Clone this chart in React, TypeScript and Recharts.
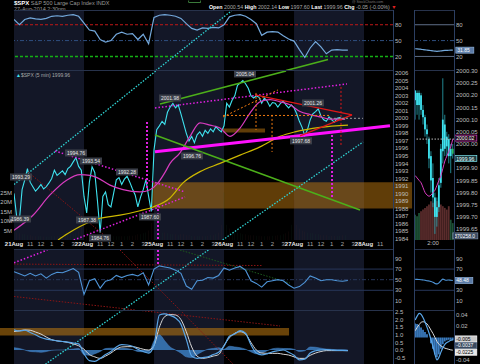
import React from 'react';
import {
  ComposedChart,
  Line,
  Bar,
  Area,
  XAxis,
  YAxis,
  ReferenceArea,
  ReferenceLine,
  ReferenceDot,
  Cell,
} from 'recharts';

// ---- time axis ----
const DAY_LABELS = ['21Aug', '22Aug', '25Aug', '26Aug', '27Aug', '28Aug'];
const HOUR_LABELS = ['11', '12', '1', '2', '3'];
const HOURS_AFTER_OPEN = [1.5, 2.5, 3.5, 4.5, 5.5];
const SHADED_DAYS = [0, 2, 4];
const T_MAX = 5.414;
const BARS_PER_DAY = 26; // 15 min bars
const STEPS_PER_DAY = 13; // 30 min samples for the indicators

// ---- SPX closes (15 min) ----
const close21 = [1990.0, 1986.9, 1986.4, 1990.5, 1991.8, 1993.29, 1991.5, 1990.9, 1990.3, 1990.7, 1991.2, 1990.6, 1990.9, 1991.4, 1992.0, 1993.1, 1992.4, 1992.7, 1993.0, 1992.5, 1993.3, 1993.6, 1994.2, 1994.76, 1993.6, 1993.1];
const close22 = [1989.6, 1987.4, 1991.5, 1993.54, 1992.8, 1989.0, 1984.76, 1989.6, 1990.2, 1988.5, 1988.2, 1990.0, 1991.8, 1992.1, 1991.2, 1991.9, 1992.28, 1991.5, 1990.6, 1989.8, 1988.2, 1989.5, 1990.5, 1991.8, 1989.6, 1987.6];
const close25 = [1995.8, 1998.5, 1999.0, 1999.6, 1999.2, 2000.8, 2001.5, 2001.98, 2001.4, 2001.8, 2000.6, 1999.3, 1998.0, 1997.0, 1997.6, 1996.76, 1997.8, 1998.2, 1997.6, 1998.4, 1998.0, 1998.6, 1998.2, 1998.9, 1998.5, 1998.2];
const close26 = [1999.0, 2002.0, 2001.5, 2002.4, 2003.0, 2004.4, 2004.7, 2005.04, 2004.6, 2004.0, 2003.0, 2002.7, 2003.0, 2002.8, 2002.0, 2002.7, 2002.3, 2001.6, 2002.1, 2002.0, 2001.5, 2002.0, 2002.3, 2001.8, 2001.4, 2001.8];
const close27 = [2001.4, 2000.6, 1999.6, 1998.8, 1997.68, 1998.5, 1999.8, 2000.6, 2000.9, 2001.26, 2000.3, 1999.8, 1999.6, 2000.2, 1999.8, 1999.5, 2000.0, 2000.1, 1999.9, 1999.96];

// ---- volume, millions ----
const vol21 = [6, 4, 3.5, 3, 3, 2.5, 2.5, 2, 2, 2, 2, 1.8, 1.8, 1.8, 2, 2, 2, 2.2, 2.2, 2.5, 2.5, 3, 3, 3.5, 4.5, 7];
const vol22 = [14, 6, 5, 4, 6, 4, 3, 3, 2.5, 2.5, 2.5, 2, 2, 2, 2, 2, 2, 2.2, 2.2, 2.5, 3, 3, 3.5, 4, 5, 9];
const vol25 = [20, 7, 5, 4, 4, 3.5, 3, 3, 3, 2.5, 3, 3, 2.5, 2.5, 2.2, 2, 2, 2, 2, 2, 2.2, 2.5, 2.5, 3, 4, 8];
const vol26 = [25, 8, 6, 5, 5, 4, 3.5, 3, 3, 2.5, 2.5, 2.5, 2.2, 2.2, 2, 2, 2, 2, 2.2, 2.2, 2.5, 2.5, 3, 3.5, 4.5, 8];
const vol27 = [21, 8, 6, 5, 4.5, 4, 3.5, 3.5, 3, 3, 2.5, 2.5, 2.5, 2.2, 2.2, 2.2, 2, 2.2, 2.5, 2.5];

// ---- moving averages: [time in days, value] ----
const magentaMA = [
  [0, 1985.1], [0.271, 1987.1], [0.514, 1989.8], [0.757, 1991.8], [0.943, 1992.5], [1.086, 1992.4], [1.186, 1992.1],
  [1.371, 1991.1], [1.557, 1990.5], [1.8, 1990.2], [1.943, 1990.5], [2.057, 1991.4], [2.157, 1992.8], [2.229, 1994.0],
  [2.371, 1995.4], [2.514, 1997.6], [2.657, 1999.4], [2.8, 1999.1], [2.943, 1998.7], [3.086, 1997.6], [3.229, 1998.7],
  [3.371, 2000.7], [3.514, 2002.2], [3.657, 2002.5], [3.8, 2002.2], [3.943, 2001.8], [4.086, 2000.9], [4.229, 2000.5],
  [4.371, 2000.2], [4.514, 1999.9], [4.729, 1999.9],
];
const yellowMA = [
  [0.629, 1983.8], [0.757, 1984.6], [0.943, 1985.6], [1.229, 1986.7], [1.514, 1987.1], [1.8, 1987.7], [1.986, 1988.2],
  [2.229, 1989.4], [2.414, 1991.4], [2.657, 1992.9], [2.943, 1994.0], [3.229, 1995.1], [3.514, 1996.2], [3.8, 1997.6],
  [4.014, 1998.2], [4.371, 1998.8], [4.771, 1999.1],
];

// ---- indicators, 30 min samples ----
const rsiTop = [
  90, 80, 90, 93, 91, 90, 92, 96, 97, 96, 98, 99, 96,
  83, 70, 68, 52, 47, 50, 62, 66, 62, 63, 52, 62, 44,
  94, 98, 99, 98, 96, 92, 82, 73, 70, 74, 73, 75, 74,
  80, 95, 98, 99, 96, 90, 82, 60, 66, 67, 66, 59, 53,
  49, 33, 18, 36, 48, 38, 25, 32, 33, 32, 31.85,
];
const rsiLow = [
  65, 61, 57, 62, 57, 61, 53, 60, 64, 63, 67, 71, 64,
  22, 48, 52, 34, 47, 50, 58, 54, 58, 60, 57, 63, 40,
  70, 76, 74, 72, 68, 62, 38, 32, 48, 49, 54, 53, 58,
  72, 68, 72, 75, 68, 48, 43, 36, 46, 48, 50, 48, 40,
  34, 37, 45, 57, 53, 48, 50, 50, 48, 47, 48.48,
];
const macdLine = [
  1.33, 1.25, 1.3, 1.15, 1.0, 0.82, 0.72, 0.66, 0.6, 0.56, 0.52, 0.46, 0.4,
  -0.25, -0.7, -0.75, -0.55, -0.3, -0.1, 0.2, 0.35, 0.33, 0.25, 0.05, -0.1, -0.2,
  0.3, 2.3, 2.38, 2.27, 2.1, 1.7, 0.7, -0.4, -0.55, -0.5, -0.45, -0.3, -0.15,
  0.25, 0.9, 1.05, 1.28, 1.1, 0.35, -0.2, -0.32, -0.25, -0.12, -0.05, 0, -0.15,
  -0.35, -0.65, -0.6, -0.2, -0.05, 0, 0.02, 0, -0.02, -0.03, -0.04,
];
const macdSignal = [
  1.22, 1.26, 1.32, 1.3, 1.18, 1.05, 0.85, 0.68, 0.6, 0.56, 0.5, 0.4, 0.28,
  0.05, -0.3, -0.45, -0.55, -0.4, -0.2, 0.05, 0.2, 0.22, 0.22, 0.15, 0.05, 0.0,
  0.3, 1.5, 2.2, 2.33, 2.3, 2.0, 1.2, 0.2, -0.4, -0.55, -0.5, -0.4, -0.3,
  0.3, 0.8, 1.1, 1.2, 1.05, 0.5, 0.0, -0.2, -0.22, -0.22, -0.22, -0.28, -0.33,
  -0.45, -0.55, -0.55, -0.35, -0.2, -0.1, -0.04, -0.04, -0.04, -0.04, -0.04,
];
const macdHist = [
  0.15, 0.1, 0.0, -0.1, -0.12, -0.15, -0.1, -0.02, 0.0, 0.0, 0.02, 0.06, 0.1,
  -0.3, -0.35, -0.25, -0.1, 0.1, 0.12, 0.12, 0.12, 0.1, 0.03, -0.1, -0.12, -0.15,
  0.6, 1.0, 0.6, 0.2, 0.0, -0.2, -0.45, -0.5, -0.3, -0.1, 0.05, 0.1, 0.15,
  0.05, 0.25, 0.2, 0.15, 0.05, -0.12, -0.25, -0.2, -0.05, 0.08, 0.12, 0.1, 0.1,
  0.05, -0.1, -0.05, 0.2, 0.18, 0.12, 0.06, 0.04, 0.02, 0.01, 0.0,
];

// ---- side panel (1 min, around 2:00) ----
const sideOpen = [2000.18, 2000.21, 2000.16, 2000.2, 2000.14, 2000.11, 2000.06, 2000.02, 1999.95, 1999.86, 1999.78, 1999.7, 1999.74, 1999.84, 1999.97, 2000.08, 1999.99, 2000.02, 1999.95, 1999.98];
const sideHigh = [2000.22, 2000.22, 2000.22, 2000.21, 2000.16, 2000.12, 2000.08, 2000.03, 1999.97, 1999.92, 1999.8, 1999.78, 1999.86, 2000.0, 2000.27, 2000.12, 2000.05, 2000.04, 2000.0, 2000.0];
const sideLow = [2000.1, 2000.12, 2000.1, 2000.12, 2000.08, 2000.03, 2000.0, 1999.9, 1999.8, 1999.74, 1999.63, 1999.66, 1999.72, 1999.82, 1999.92, 1999.95, 1999.95, 1999.92, 1999.88, 1999.94];
const sideClose = [2000.22, 2000.16, 2000.21, 2000.14, 2000.11, 2000.06, 2000.04, 1999.94, 1999.85, 1999.78, 1999.7, 1999.74, 1999.83, 1999.98, 2000.1, 1999.98, 2000.03, 1999.95, 1999.98, 1999.96];
const sideMA = [1999.87, 1999.86, 1999.85, 1999.84, 1999.82, 1999.8, 1999.79, 1999.785, 1999.79, 1999.8, 1999.81, 1999.83, 1999.85, 1999.87, 1999.9, 1999.93, 1999.95, 1999.97, 1999.99, 2000.02];
const sideVol = [150, 140, 160, 170, 180, 190, 200, 210, 230, 220, 240, 230, 220, 210, 200, 190, 180, 200, 120, 100];
const sideRsiTop = [34.5, 34.3, 34, 33.5, 33, 32.5, 32, 31.5, 31, 30.5, 30, 29.7, 30, 30.5, 31, 31.3, 31.5, 31.7, 31.8, 31.85];
const sideRsiLow = [50.5, 50.5, 50.3, 50, 49.5, 49, 48, 47.5, 46.5, 45, 43, 42, 44, 48, 51, 49.5, 49, 49.5, 48.8, 48.48];
const sideMacd = [0.031, 0.038, 0.043, 0.041, 0.035, 0.027, 0.018, 0.008, -0.004, -0.016, -0.03, -0.04, -0.035, -0.026, -0.018, -0.012, -0.009, -0.007, -0.005, -0.0037];
const sideSignal = [0.012, 0.018, 0.023, 0.027, 0.028, 0.027, 0.024, 0.019, 0.013, 0.007, 0.0, -0.007, -0.012, -0.015, -0.017, -0.019, -0.02, -0.021, -0.022, -0.0225];
const sideHist = [0.025, 0.024, 0.022, 0.018, 0.014, 0.01, 0.006, 0.0, -0.01, -0.02, -0.03, -0.035, -0.03, -0.02, -0.012, -0.007, -0.005, -0.004, -0.004, -0.005];

// ---- tick values ----
const priceTicks = [1984, 1985, 1986, 1987, 1988, 1989, 1990, 1991, 1992, 1993, 1994, 1995, 1996, 1997, 1998, 1999, 2000, 2001, 2002, 2003, 2004, 2005, 2006];
const volTicks = [5, 10, 15, 20, 25];
const rsiTopTicks = [20, 50, 80];
const rsiLowTicks = [10, 30, 50, 70, 90];
const macdTicks = [-0.5, 0, 0.5, 1, 1.5, 2, 2.5];
// 1999.95 sits under the last-price box
const sidePriceTicks = [1999.65, 1999.7, 1999.75, 1999.8, 1999.85, 1999.9, 2000.0, 2000.05, 2000.1, 2000.15, 2000.2, 2000.25, 2000.3];
// 50 sits under the last-value box
const sideRsiLowTicks = [10, 30, 70, 90];
const sideMacdTicks = [-0.04, 0.02, 0.04];

// ---- drawn annotations: [t, value] endpoints ----
const mainSegments = [
  { kind: 'cyanDot', a: [0, 1991.19], b: [2.027, 2006.31] },
  { kind: 'cyanDot', a: [2.98, 1983.8], b: [4.986, 1996.85] },
  { kind: 'redDot', a: [0.2, 1992.85], b: [1.371, 1983.8] },
  { kind: 'magentaDot', a: [0.586, 1995.65], b: [2.443, 1990.2] },
  { kind: 'magentaDot', a: [0.853, 1983.8], b: [2.443, 1989.53] },
  { kind: 'magentaDot', a: [2.014, 2001.38], b: [4.757, 2004.57] },
  { kind: 'magentaVert', a: [1.9, 1999.52], b: [1.9, 1990.46] },
  { kind: 'magentaVert', a: [2.057, 1988.46], b: [2.057, 1983.8] },
  { kind: 'magentaVert', a: [4.543, 1997.78], b: [4.543, 1989.53] },
  { kind: 'magentaThick', a: [2.014, 1995.56], b: [5.371, 1999.02] },
  { kind: 'green', a: [2.086, 2001.91], b: [3.886, 2006.31] },
  { kind: 'green', a: [2.014, 1997.78], b: [4.943, 1987.8] },
  { kind: 'red', a: [3.443, 2003.11], b: [4.829, 2000.45] },
  { kind: 'red', a: [4.086, 1997.65], b: [4.829, 2000.45] },
  { kind: 'redDash', a: [4.671, 2004.18], b: [4.671, 1996.19] },
  { kind: 'orangeDash', a: [2.986, 2000.18], b: [3.771, 2003.78] },
  { kind: 'orangeDash', a: [2.986, 2000.38], b: [4.514, 2000.38] },
  { kind: 'orangeDash', a: [3.457, 2003.38], b: [3.457, 1998.45] },
  { kind: 'orangeDash', a: [3.686, 2000.45], b: [3.686, 1995.52] },
  { kind: 'greyDash', a: [4.514, 2000.0], b: [4.986, 2000.0] },
];
const topSegments = [
  { kind: 'cyanDot', a: [2.027, -6.8], b: [3.129, 108.7] },
  { kind: 'green', a: [3.886, -6.8], b: [4.486, 14.0] },
];
const lowSegments = [
  { kind: 'cyanDot', a: [2.777, 106], b: [1.553, -7.2] },
  { kind: 'redDot', a: [0, 18.3], b: [1.743, -7.2] },
  { kind: 'redDot', a: [1.514, 106], b: [2.371, -7.2] },
  { kind: 'redDot', a: [0, 79.4], b: [3.543, 76.7] },
  { kind: 'magentaDot', a: [0, 82], b: [0.477, 106] },
  { kind: 'magentaVert', a: [2.057, 106], b: [2.057, 77.4] },
  { kind: 'greenDot', a: [2.371, 106], b: [3.943, 43.6] },
];
const macdSegments = [
  { kind: 'cyanDot', a: [1.553, 2.63], b: [0.451, -0.92] },
  { kind: 'redDot', a: [1.743, 2.63], b: [3.8, 1.58] },
  { kind: 'redDot', a: [2.371, 2.63], b: [3.129, -0.92] },
];
const mainZones = [
  { t: [1.971, 5.686], v: [1988.0, 1991.5] },
  { t: [2.986, 3.586], v: [1998.1, 1998.65] },
];
const macdZones = [{ t: [-0.2, 3.929], v: [0.95, 1.45] }];

const priceNotes = [
  { t: 0.1, p: 1992.19, text: '1993.29' },
  { t: 0.086, p: 1986.6, text: '1986.39' },
  { t: 0.886, p: 1995.39, text: '1994.76' },
  { t: 1.1, p: 1994.32, text: '1993.54' },
  { t: 1.043, p: 1986.47, text: '1987.38' },
  { t: 1.229, p: 1984.07, text: '1984.76' },
  { t: 1.614, p: 1992.86, text: '1992.28' },
  { t: 1.943, p: 1986.87, text: '1987.60' },
  { t: 2.229, p: 2002.71, text: '2001.98' },
  { t: 2.543, p: 1994.99, text: '1996.76' },
  { t: 3.3, p: 2005.91, text: '2005.04' },
  { t: 4.271, p: 2002.05, text: '2001.26' },
  { t: 4.1, p: 1997.0, text: '1997.68' },
];

const SEG_STYLE: Record<string, any> = {
  cyanDot: { stroke: '#2fd3d3', strokeWidth: 1.3, strokeDasharray: '1.5 1.5' },
  redDot: { stroke: '#8a1414', strokeWidth: 1, strokeDasharray: '1.5 1.5' },
  greenDot: { stroke: '#1c5a1c', strokeWidth: 1, strokeDasharray: '1.5 1.5' },
  magentaDot: { stroke: '#e020e0', strokeWidth: 1.5, strokeDasharray: '1.5 2' },
  magentaVert: { stroke: '#e020e0', strokeWidth: 2, strokeDasharray: '2 2' },
  magentaThick: { stroke: '#ff10ff', strokeWidth: 3 },
  green: { stroke: '#4caf1a', strokeWidth: 1.5 },
  red: { stroke: '#e01818', strokeWidth: 1.3 },
  redDash: { stroke: '#e01818', strokeWidth: 1, strokeDasharray: '2 2' },
  orangeDash: { stroke: '#f07a10', strokeWidth: 1, strokeDasharray: '2 2' },
  greyDash: { stroke: '#9a9a9a', strokeWidth: 1, strokeDasharray: '2 2' },
};

// ---- rows built from the arrays ----
const closes = [...close21, ...close22, ...close25, ...close26, ...close27];
const volumes = [...vol21, ...vol22, ...vol25, ...vol26, ...vol27];
const stamp = (i: number, perDay: number) => Math.floor(i / perDay) + (i % perDay) / perDay;

const priceRows = closes.map((c, i) => ({ t: stamp(i, BARS_PER_DAY), close: c, vol: volumes[i] }));
const magentaRows = magentaMA.map(([t, v]) => ({ t, v }));
const yellowRows = yellowMA.map(([t, v]) => ({ t, v }));
const indRows = rsiTop.map((r, i) => ({
  t: stamp(i, STEPS_PER_DAY),
  rsiTop: r,
  rsiLow: rsiLow[i],
  macd: macdLine[i],
  signal: macdSignal[i],
  hist: macdHist[i],
}));
const sideRows = sideClose.map((c, i) => ({
  i,
  o: sideOpen[i],
  h: sideHigh[i],
  l: sideLow[i],
  c,
  ma: sideMA[i],
  vol: sideVol[i],
  rsiTop: sideRsiTop[i],
  rsiLow: sideRsiLow[i],
  macd: sideMacd[i],
  signal: sideSignal[i],
  hist: sideHist[i],
}));

const timeTicks: number[] = [];
const tickInfo: Record<string, { text: string; day: boolean }> = {};
DAY_LABELS.forEach((d, di) => {
  timeTicks.push(di);
  tickInfo[di.toFixed(3)] = { text: d, day: true };
  HOURS_AFTER_OPEN.forEach((h, hi) => {
    const t = di + h / 6.5;
    if (t < 5.3) {
      timeTicks.push(t);
      tickInfo[t.toFixed(3)] = { text: HOUR_LABELS[hi], day: false };
    }
  });
});

const FONT = '"Liberation Sans", Arial, sans-serif';
const AXIS_TEXT = { fontSize: 6, fill: '#bdbdbd', fontFamily: FONT };
const FRAME = '#27324b';

function TimeTick(props: any) {
  const { x, y, payload } = props;
  const info = tickInfo[Number(payload.value).toFixed(3)];
  if (!info) return null;
  return (
    <text x={x} y={y + 6} textAnchor="middle" fontSize={6} fontFamily={FONT} fontWeight={info.day ? 700 : 400} fill={info.day ? '#e6e6e6' : '#a8a8a8'}>
      {info.text}
    </text>
  );
}

function renderSegments(list: any[]) {
  return list.map((s, k) => (
    <ReferenceLine
      key={'seg' + k}
      segment={[{ x: s.a[0], y: s.a[1] }, { x: s.b[0], y: s.b[1] }]}
      ifOverflow="hidden"
      {...SEG_STYLE[s.kind]}
    />
  ));
}

function dayBands() {
  return SHADED_DAYS.map((d) => (
    <ReferenceArea key={'day' + d} x1={d} x2={d + 1} fill="#131727" fillOpacity={1} stroke="none" ifOverflow="hidden" />
  ));
}

function NoteBox(props: any) {
  const { cx, cy, text } = props;
  return (
    <g>
      <rect x={cx - 11} y={cy - 3.5} width={22} height={7} fill="#3a3e48" />
      <text x={cx} y={cy + 2} textAnchor="middle" fontSize={5} fontFamily={FONT} fill="#e6e6e6">
        {text}
      </text>
    </g>
  );
}

function ValueBox(props: any) {
  const { cx, cy, text, fill, stroke, color, dx = 3, dy = 0, w = 24 } = props;
  return (
    <g>
      <rect x={cx + dx} y={cy + dy - 3} width={w} height={6} fill={fill} stroke={stroke} strokeWidth={0.7} />
      <text x={cx + dx + 1.5} y={cy + dy + 2} fontSize={5} fontFamily={FONT} fill={color}>
        {text}
      </text>
    </g>
  );
}

const xMain = { type: 'number' as const, dataKey: 't', domain: [0, T_MAX], allowDataOverflow: true };
const rightAxis = {
  orientation: 'right' as const,
  width: 21,
  tickLine: false,
  axisLine: false,
  tickSize: 0,
  tickMargin: 2,
  interval: 0 as const,
  allowDataOverflow: true,
  tick: AXIS_TEXT,
};
const sideAxis = { ...rightAxis, width: 26 };
const xSide = { type: 'number' as const, dataKey: 'i', domain: [-0.6, 19.6], allowDataOverflow: true };

function Rule({ x, y, w, h, color = FRAME }: any) {
  return <div style={{ position: 'absolute', left: x, top: y, width: w, height: h, background: color }} />;
}

function Place({ x, y, children }: any) {
  return <div style={{ position: 'absolute', left: x, top: y }}>{children}</div>;
}

export default function App() {
  return (
    <div style={{ position: 'relative', width: 480, height: 364, background: '#000', overflow: 'hidden', fontFamily: FONT }}>
      <style>{'body{margin:0;background:#000}'}</style>

      {/* header */}
      <div style={{ position: 'absolute', left: 14, top: 0, fontSize: 5.5, lineHeight: '6px', color: '#9a9a9a', whiteSpace: 'nowrap' }}>
        <b style={{ color: '#fff', fontSize: 6 }}>$SPX</b> S&amp;P 500 Large Cap Index INDX
        <br />
        27-Aug-2014 2:30pm
      </div>
      <div style={{ position: 'absolute', left: 188, top: 0, width: 11, height: 2, border: '1px solid #3a7a3a', borderTop: 'none', borderRadius: 2 }} />
      <div style={{ position: 'absolute', left: 352, top: 0, fontSize: 3.5, color: '#7a7a7a', whiteSpace: 'nowrap' }}>@ StockCharts.com</div>
      <div style={{ position: 'absolute', left: 209, top: 4, fontSize: 5.3, color: '#a8a8a8', whiteSpace: 'nowrap' }}>
        <b style={{ color: '#fff' }}>Open</b> 2000.54 <b style={{ color: '#fff' }}>High</b> 2002.14 <b style={{ color: '#fff' }}>Low</b> 1997.60{' '}
        <b style={{ color: '#fff' }}>Last</b> 1999.96 <b style={{ color: '#fff' }}>Chg</b> -0.05 (-0.00%) <span style={{ color: '#e02020' }}>▼</span>
      </div>

      {/* top indicator panel */}
      <Place x={0} y={10}>
        <ComposedChart width={414} height={60} data={indRows} margin={{ top: 0, right: 0, bottom: 0, left: 14 }}>
          <XAxis {...xMain} hide />
          <YAxis {...rightAxis} domain={[-5.7, 107.9]} ticks={rsiTopTicks} />
          {dayBands()}
          <ReferenceLine y={80} stroke="#c01818" strokeDasharray="3 2" />
          <ReferenceLine y={50} stroke="#2f4f7f" strokeDasharray="4 2 1 2" />
          <ReferenceLine y={20} stroke="#14b014" strokeWidth={1.5} strokeDasharray="3 2" />
          <Line dataKey="rsiTop" stroke="#74a9dc" strokeWidth={1.2} dot={false} isAnimationActive={false} type="linear" />
          {renderSegments(topSegments)}
        </ComposedChart>
      </Place>

      {/* main price panel */}
      <Place x={0} y={71}>
        <ComposedChart width={414} height={178} data={priceRows} margin={{ top: 0, right: 0, bottom: 0, left: 0 }}>
          <XAxis {...xMain} ticks={timeTicks} interval={0} tick={<TimeTick />} height={9} tickLine={false} axisLine={false} tickSize={0} tickMargin={0} />
          <YAxis {...rightAxis} domain={[1983.8, 2006.3]} ticks={priceTicks} />
          <YAxis
            yAxisId="vol"
            orientation="left"
            width={14}
            domain={[0, 89]}
            ticks={volTicks}
            tickFormatter={(v: number) => v + 'M'}
            tickLine={false}
            axisLine={false}
            tickSize={0}
            tickMargin={2}
            interval={0}
            allowDataOverflow
            tick={AXIS_TEXT}
          />
          {dayBands()}
          {mainZones.map((z, k) => (
            <ReferenceArea key={'z' + k} x1={z.t[0]} x2={z.t[1]} y1={z.v[0]} y2={z.v[1]} fill="#c07a10" fillOpacity={0.5} stroke="none" ifOverflow="visible" />
          ))}
          <Bar yAxisId="vol" dataKey="vol" barSize={2} isAnimationActive={false}>
            {priceRows.map((r, i) => (
              <Cell key={i} fill={i > 0 && r.close < priceRows[i - 1].close ? '#5a2c2c' : '#1d5236'} />
            ))}
          </Bar>
          <Line dataKey="close" stroke="#3fe3f0" strokeWidth={1.1} dot={false} isAnimationActive={false} type="linear" />
          <Line data={yellowRows} dataKey="v" stroke="#cdb800" strokeWidth={1.2} dot={false} isAnimationActive={false} type="monotone" />
          <Line data={magentaRows} dataKey="v" stroke="#d83cbf" strokeWidth={1.2} dot={false} isAnimationActive={false} type="monotone" />
          {renderSegments(mainSegments)}
          {priceNotes.map((n, k) => (
            <ReferenceDot key={'n' + k} x={n.t} y={n.p} r={0} ifOverflow="visible" shape={(p: any) => <NoteBox {...p} text={n.text} />} />
          ))}
        </ComposedChart>
      </Place>
      <div style={{ position: 'absolute', left: 16, top: 72, fontSize: 5, color: '#a8a8a8', whiteSpace: 'nowrap' }}>
        <span style={{ color: '#3fe3f0' }}>▲</span>$SPX (5 min) 1999.96
      </div>

      {/* lower RSI panel */}
      <Place x={0} y={250}>
        <ComposedChart width={414} height={60} data={indRows} margin={{ top: 0, right: 0, bottom: 0, left: 14 }}>
          <XAxis {...xMain} hide />
          <YAxis {...rightAxis} domain={[-7.2, 106]} ticks={rsiLowTicks} />
          {dayBands()}
          <ReferenceLine y={70} stroke="#27365a" />
          <ReferenceLine y={30} stroke="#27365a" />
          <ReferenceLine y={50} stroke="#27365a" strokeDasharray="4 2 1 2" />
          {renderSegments(lowSegments)}
          <Line dataKey="rsiLow" stroke="#4f95d8" strokeWidth={1.1} dot={false} isAnimationActive={false} type="linear" />
        </ComposedChart>
      </Place>

      {/* MACD panel */}
      <Place x={0} y={310}>
        <ComposedChart width={414} height={54} data={indRows} margin={{ top: 0, right: 0, bottom: 0, left: 14 }}>
          <XAxis {...xMain} hide />
          <YAxis {...rightAxis} domain={[-0.92, 2.63]} ticks={macdTicks} tickFormatter={(v: number) => v.toFixed(1)} />
          {dayBands()}
          {macdZones.map((z, k) => (
            <ReferenceArea key={'mz' + k} x1={z.t[0]} x2={z.t[1]} y1={z.v[0]} y2={z.v[1]} fill="#c07a10" fillOpacity={0.55} stroke="none" ifOverflow="visible" />
          ))}
          <Area dataKey="hist" baseValue={0} fill="#3b7cc0" fillOpacity={0.85} stroke="#4a8ad0" strokeWidth={0.5} isAnimationActive={false} type="monotone" />
          {renderSegments(macdSegments)}
          <Line dataKey="signal" stroke="#d8d8d8" strokeWidth={1} dot={false} isAnimationActive={false} type="monotone" />
          <Line dataKey="macd" stroke="#5aa6e8" strokeWidth={1.2} dot={false} isAnimationActive={false} type="monotone" />
        </ComposedChart>
      </Place>

      {/* side panel: top */}
      <Place x={414} y={10}>
        <ComposedChart width={66} height={60} data={sideRows} margin={{ top: 0, right: 0, bottom: 0, left: 0 }}>
          <XAxis {...xSide} hide />
          <YAxis {...sideAxis} domain={[-5.7, 107.9]} ticks={rsiTopTicks} />
          <ReferenceLine y={80} stroke="#5f6f88" />
          <ReferenceLine y={50} stroke="#2f4f7f" strokeDasharray="4 2 1 2" />
          <ReferenceLine y={20} stroke="#5f6f88" />
          <Line dataKey="rsiTop" stroke="#74a9dc" strokeWidth={1.2} dot={false} isAnimationActive={false} type="monotone" />
          <ReferenceDot x={19} y={31.85} r={0} ifOverflow="visible" shape={(p: any) => <ValueBox {...p} text="31.85" fill="#5b7ba6" stroke="#8fb0d8" color="#fff" w={18} />} />
        </ComposedChart>
      </Place>

      {/* side panel: price */}
      <Place x={414} y={65}>
        <ComposedChart width={66} height={184} data={sideRows} margin={{ top: 6, right: 0, bottom: 0, left: 0 }}>
          <XAxis {...xSide} ticks={[9]} tickFormatter={() => '2:00'} height={9} tickLine={false} axisLine={false} tickSize={0} tickMargin={1} tick={AXIS_TEXT} />
          <XAxis {...xSide} xAxisId="vx" hide />
          <YAxis {...sideAxis} domain={[1999.605, 2000.3]} ticks={sidePriceTicks} tickFormatter={(v: number) => v.toFixed(2)} />
          <YAxis yAxisId="vol" hide domain={[0, 1000]} allowDataOverflow />
          <ReferenceLine y={2000.02} stroke="#bbbbbb" strokeDasharray="1.5 1.5" />
          <Bar xAxisId="vx" yAxisId="vol" dataKey="vol" barSize={2} isAnimationActive={false}>
            {sideRows.map((r, i) => (
              <Cell key={i} fill={i < 3 || i > 17 ? '#1d5236' : '#5a2c2c'} />
            ))}
          </Bar>
          <Bar
            dataKey={(r: any) => [r.l, r.h]}
            barSize={2}
            isAnimationActive={false}
            shape={(p: any) => {
              const { x, y, width, height, payload } = p;
              const top = Math.min(y, y + height);
              const hgt = Math.abs(height);
              const k = hgt / (payload.h - payload.l || 1);
              const bTop = top + (payload.h - Math.max(payload.o, payload.c)) * k;
              const bBot = top + (payload.h - Math.min(payload.o, payload.c)) * k;
              const cx = x + width / 2;
              const col = payload.i === 19 ? '#2fbf6a' : '#3fe3f0';
              return (
                <g>
                  <line x1={cx} x2={cx} y1={top} y2={top + hgt} stroke="#2aa7b4" strokeWidth={0.8} />
                  <rect x={x} y={bTop} width={width} height={Math.max(1, bBot - bTop)} fill={col} />
                </g>
              );
            }}
          />
          <Line dataKey="ma" stroke="#d83cbf" strokeWidth={1} dot={false} isAnimationActive={false} type="monotone" />
          <ReferenceDot x={19} y={2000.02} r={0} ifOverflow="visible" shape={(p: any) => <ValueBox {...p} text="2000.02" fill="#1a0a18" stroke="#d83cbf" color="#fff" w={22} dx={2} dy={-1} />} />
          <ReferenceDot x={19} y={1999.94} r={0} ifOverflow="visible" shape={(p: any) => <ValueBox {...p} text="1999.96" fill="#1d3a40" stroke="#7fe6ee" color="#e8ffff" w={22} dx={2} />} />
          <ReferenceDot x={19} y={1999.622} r={0} ifOverflow="visible" shape={(p: any) => <ValueBox {...p} text="370258.0" fill="#3a4a60" stroke="#7f90a8" color="#fff" w={25} dx={0} />} />
        </ComposedChart>
      </Place>

      {/* side panel: lower RSI */}
      <Place x={414} y={250}>
        <ComposedChart width={66} height={60} data={sideRows} margin={{ top: 0, right: 0, bottom: 0, left: 0 }}>
          <XAxis {...xSide} hide />
          <YAxis {...sideAxis} domain={[-7.2, 106]} ticks={sideRsiLowTicks} />
          <ReferenceLine y={70} stroke="#27365a" />
          <ReferenceLine y={30} stroke="#27365a" />
          <Line dataKey="rsiLow" stroke="#4f95d8" strokeWidth={1.1} dot={false} isAnimationActive={false} type="monotone" />
          <ReferenceDot x={19} y={48.48} r={0} ifOverflow="visible" shape={(p: any) => <ValueBox {...p} text="48.48" fill="#5b7ba6" stroke="#8fb0d8" color="#fff" w={18} dx={2} />} />
        </ComposedChart>
      </Place>

      {/* side panel: MACD */}
      <Place x={414} y={310}>
        <ComposedChart width={66} height={54} data={sideRows} margin={{ top: 0, right: 0, bottom: 0, left: 0 }}>
          <XAxis {...xSide} hide />
          <YAxis {...sideAxis} domain={[-0.0471, 0.0489]} ticks={sideMacdTicks} tickFormatter={(v: number) => v.toFixed(2)} />
          <Bar dataKey="hist" barSize={2} fill="#3b7cc0" isAnimationActive={false} />
          <Line dataKey="signal" stroke="#d8d8d8" strokeWidth={1} dot={false} isAnimationActive={false} type="monotone" />
          <Line dataKey="macd" stroke="#5aa6e8" strokeWidth={1.2} dot={false} isAnimationActive={false} type="monotone" />
          <ReferenceDot x={19} y={-0.0025} r={0} ifOverflow="visible" shape={(p: any) => <ValueBox {...p} text="-0.005" fill="#c8c8c8" stroke="#fff" color="#000" w={22} dx={2} />} />
          <ReferenceDot x={19} y={-0.0142} r={0} ifOverflow="visible" shape={(p: any) => <ValueBox {...p} text="-0.0037" fill="#3a4a60" stroke="#7f90a8" color="#fff" w={22} dx={2} />} />
          <ReferenceDot x={19} y={-0.0262} r={0} ifOverflow="visible" shape={(p: any) => <ValueBox {...p} text="-0.0225" fill="#e8e8e8" stroke="#fff" color="#000" w={22} dx={2} />} />
        </ComposedChart>
      </Place>

      {/* panel frames */}
      <Rule x={14} y={10} w={379} h={1} />
      <Rule x={14} y={70} w={379} h={1} />
      <Rule x={14} y={249} w={379} h={1} />
      <Rule x={14} y={310} w={379} h={1} />
      <Rule x={393} y={10} w={1} h={354} color="#2c3f62" />
      <Rule x={414} y={10} w={40} h={1} />
      <Rule x={414} y={70} w={40} h={1} />
      <Rule x={414} y={249} w={40} h={1} />
      <Rule x={414} y={310} w={40} h={1} />
      <Rule x={414} y={10} w={1} h={354} color="#2c3f62" />
      <Rule x={454} y={10} w={1} h={354} color="#2c3f62" />
    </div>
  );
}
